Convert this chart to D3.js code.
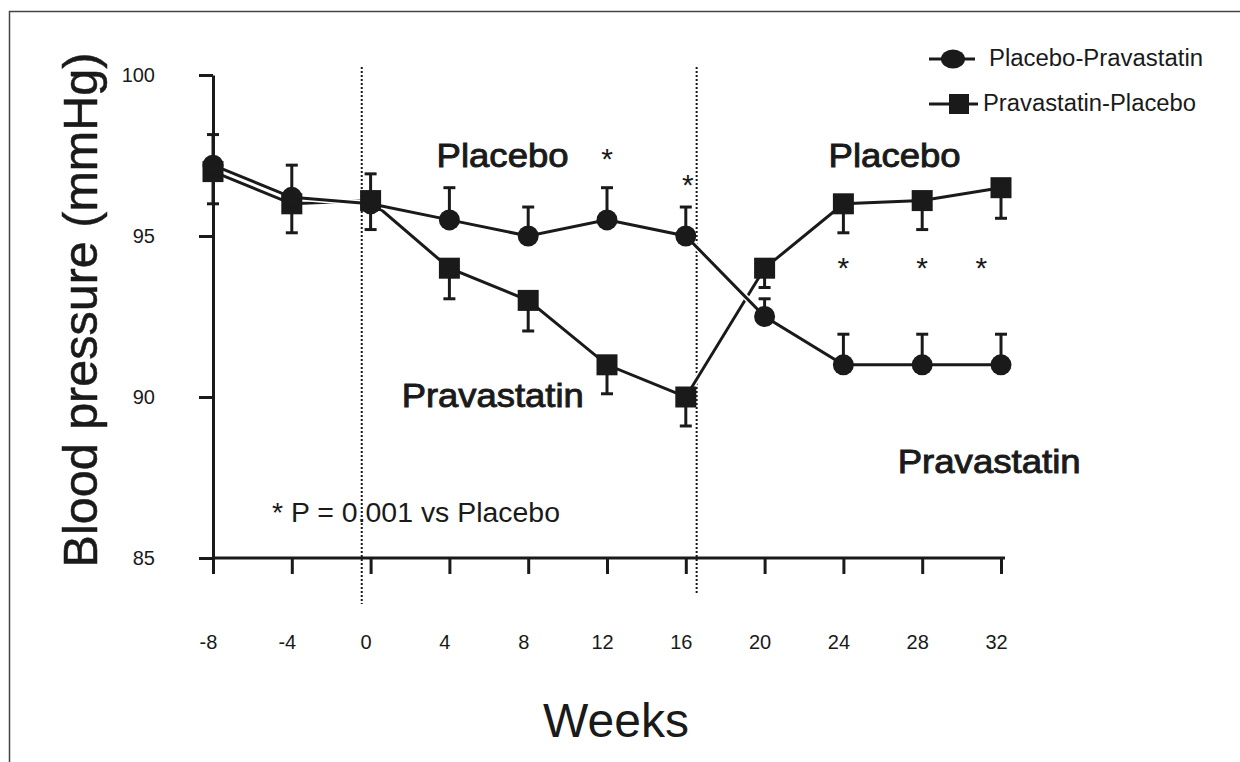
<!DOCTYPE html>
<html>
<head>
<meta charset="utf-8">
<script src="https://cdn.jsdelivr.net/npm/d3@7"></script>
<style>
    body { margin: 0; background: #fff; }
    svg { display: block; font-family: "Liberation Sans", Arial, Helvetica, sans-serif; }
    .axis path, .axis line { stroke: #1a1a1a; stroke-width: 3; }
    .axis text { font-size: 20px; fill: #1a1a1a; font-family: "Liberation Sans", Arial, Helvetica, sans-serif; }
</style>
</head>
<body>
<svg id="chart" width="1240" height="762"></svg>
<script>
//data
let weeks = [-8, -4, 0, 4, 8, 12, 16, 20, 24, 28, 32];
let placeboPrava = [97.2, 96.2, 96.0, 95.5, 95.0, 95.5, 95.0, 92.5, 91.0, 91.0, 91.0];
let placeboPravaSE = [0.95, 1.0, 0.93, 1.0, 0.9, 1.0, 0.9, 0.55, 0.95, 0.95, 0.95];
let pravaPlacebo = [97.0, 96.0, 96.1, 94.0, 93.0, 91.0, 90.0, 94.0, 96.0, 96.1, 96.5];
let pravaPlaceboSE = [1.0, 0.9, 0.9, 0.95, 0.95, 0.9, 0.9, 0.6, 0.9, 0.9, 0.95];

let yTicks = [85, 90, 95, 100];
let xTicks = weeks;
let phaseBreaks = [-0.5, 16.5];
let seriesNames = ["Placebo-Pravastatin", "Pravastatin-Placebo"];

//significance stars (week, mmHg)
let starWeeks = [12, 16.1, 24, 28, 31];
let starValues = [97.55, 96.75, 94.15, 94.15, 94.15];

//phase labels (text, week, mmHg at baseline)
let phaseText = ["Placebo", "Pravastatin", "Placebo", "Pravastatin"];
let phaseWeek = [6.7, 6.2, 26.6, 31.4];
let phaseValue = [97.14, 89.69, 97.14, 87.64];
let phaseWidth = [132, 182, 132, 183];

let footnote = "* P = 0.001 vs Placebo";

let svg = d3.select("#chart");
let ink = "#1a1a1a";

let x = d3.scaleLinear().domain([-8, 32]).range([213, 1001]);
let y = d3.scaleLinear().domain([85, 100]).range([558, 75]);

//frame round the figure
svg.append("rect")
    .attr("x", 9.5).attr("y", 11.5)
    .attr("width", 1240).attr("height", 800)
    .attr("fill", "none")
    .attr("stroke", "#444")
    .attr("stroke-width", 1.5);

//dotted phase boundaries
svg.append("g").selectAll("line")
    .data(phaseBreaks)
    .enter()
    .append("line")
    .attr("x1", d => x(d) + 1).attr("x2", d => x(d) + 1)
    .attr("y1", y(100.25))
    .attr("y2", (d, i) => i == 0 ? 604 : 593)
    .attr("stroke", ink)
    .attr("stroke-width", 2)
    .attr("stroke-dasharray", "2,2");

//axes
let yAxis = svg.append("g")
    .attr("class", "axis")
    .attr("transform", "translate(" + x(-8) + ",0)")
    .call(d3.axisLeft(y).tickValues(yTicks).tickSize(14).tickSizeOuter(0).tickPadding(44));

let xAxis = svg.append("g")
    .attr("class", "axis")
    .attr("transform", "translate(0," + y(85) + ")")
    .call(d3.axisBottom(x).tickValues(xTicks).tickFormat(d => String(d))
        .tickSize(16).tickSizeOuter(0).tickPadding(61));
xAxis.selectAll("text").attr("dx", "-5");
xAxis.select(".domain").attr("d", "M" + x(-8) + ",0H" + (x(32) + 4));

//axis titles
svg.append("text")
    .attr("x", 616).attr("y", 737)
    .attr("text-anchor", "middle")
    .attr("font-size", 48)
    .attr("fill", ink)
    .text("Weeks");

svg.append("text")
    .attr("transform", "translate(97," + 310 + ") rotate(-90)")
    .attr("text-anchor", "middle")
    .attr("font-size", 48.5)
    .attr("fill", ink)
    .attr("stroke", ink)
    .attr("stroke-width", 0.5)
    .text("Blood pressure (mmHg)");

//error bars: circles go up, squares go down
function errorBars(values, se, dir) {
    let g = svg.append("g").attr("stroke", ink).attr("stroke-width", 3);
    g.selectAll("line.bar")
        .data(values)
        .enter()
        .append("line")
        .attr("class", "bar")
        .attr("x1", (d, i) => x(weeks[i])).attr("x2", (d, i) => x(weeks[i]))
        .attr("y1", d => y(d))
        .attr("y2", (d, i) => y(d + dir * se[i]));
    g.selectAll("line.cap")
        .data(values)
        .enter()
        .append("line")
        .attr("class", "cap")
        .attr("x1", (d, i) => x(weeks[i]) - 6).attr("x2", (d, i) => x(weeks[i]) + 6)
        .attr("y1", (d, i) => y(d + dir * se[i]))
        .attr("y2", (d, i) => y(d + dir * se[i]));
}
errorBars(placeboPrava, placeboPravaSE, 1);
errorBars(pravaPlacebo, pravaPlaceboSE, -1);

//series lines
let line = d3.line()
    .x((d, i) => x(weeks[i]))
    .y(d => y(d));

[pravaPlacebo, placeboPrava].forEach(function (s) {
    svg.append("path")
        .datum(s)
        .attr("d", line)
        .attr("fill", "none")
        .attr("stroke", "#fff")
        .attr("stroke-width", 6);
    svg.append("path")
        .datum(s)
        .attr("d", line)
        .attr("fill", "none")
        .attr("stroke", ink)
        .attr("stroke-width", 3);
});

//markers
svg.append("g").selectAll("rect")
    .data(pravaPlacebo)
    .enter()
    .append("rect")
    .attr("x", (d, i) => x(weeks[i]) - 10.5)
    .attr("y", d => y(d) - 10.5)
    .attr("width", 21).attr("height", 21)
    .attr("fill", ink);

svg.append("g").selectAll("circle")
    .data(placeboPrava)
    .enter()
    .append("circle")
    .attr("cx", (d, i) => x(weeks[i]))
    .attr("cy", d => y(d))
    .attr("r", 10.5)
    .attr("fill", ink);

//stars
svg.append("g").selectAll("text")
    .data(starValues)
    .enter()
    .append("text")
    .attr("x", (d, i) => x(starWeeks[i]))
    .attr("y", d => y(d) + 15)
    .attr("text-anchor", "middle")
    .attr("font-size", 30)
    .attr("fill", ink)
    .text("*");

//phase labels
svg.append("g").selectAll("text")
    .data(phaseText)
    .enter()
    .append("text")
    .attr("x", (d, i) => x(phaseWeek[i]))
    .attr("y", (d, i) => y(phaseValue[i]))
    .attr("text-anchor", "middle")
    .attr("font-size", 33)
    .attr("textLength", (d, i) => phaseWidth[i])
    .attr("lengthAdjust", "spacingAndGlyphs")
    .attr("fill", ink)
    .attr("stroke", ink)
    .attr("stroke-width", 0.9)
    .text(d => d);

svg.append("text")
    .attr("x", 272).attr("y", 522)
    .attr("font-size", 27)
    .attr("textLength", 288)
    .attr("lengthAdjust", "spacingAndGlyphs")
    .attr("fill", ink)
    .text(footnote);

//legend
let legend = svg.append("g");
let legendY = [59, 104];
let legendTextX = [989, 983];

legend.selectAll("line")
    .data(seriesNames)
    .enter()
    .append("line")
    .attr("x1", 929)
    .attr("x2", (d, i) => i == 0 ? 975 : 978)
    .attr("y1", (d, i) => legendY[i]).attr("y2", (d, i) => legendY[i])
    .attr("stroke", ink)
    .attr("stroke-width", 3);

legend.append("ellipse")
    .attr("cx", 953).attr("cy", legendY[0])
    .attr("rx", 12).attr("ry", 9.5)
    .attr("fill", ink);

legend.append("rect")
    .attr("x", 949).attr("y", legendY[1] - 10)
    .attr("width", 20).attr("height", 20)
    .attr("fill", ink);

legend.selectAll("text")
    .data(seriesNames)
    .enter()
    .append("text")
    .attr("x", (d, i) => legendTextX[i])
    .attr("y", (d, i) => legendY[i] + 7)
    .attr("font-size", 23)
    .attr("textLength", (d, i) => i == 0 ? 214 : 213)
    .attr("lengthAdjust", "spacingAndGlyphs")
    .attr("fill", ink)
    .text(d => d);
</script>
</body>
</html>
